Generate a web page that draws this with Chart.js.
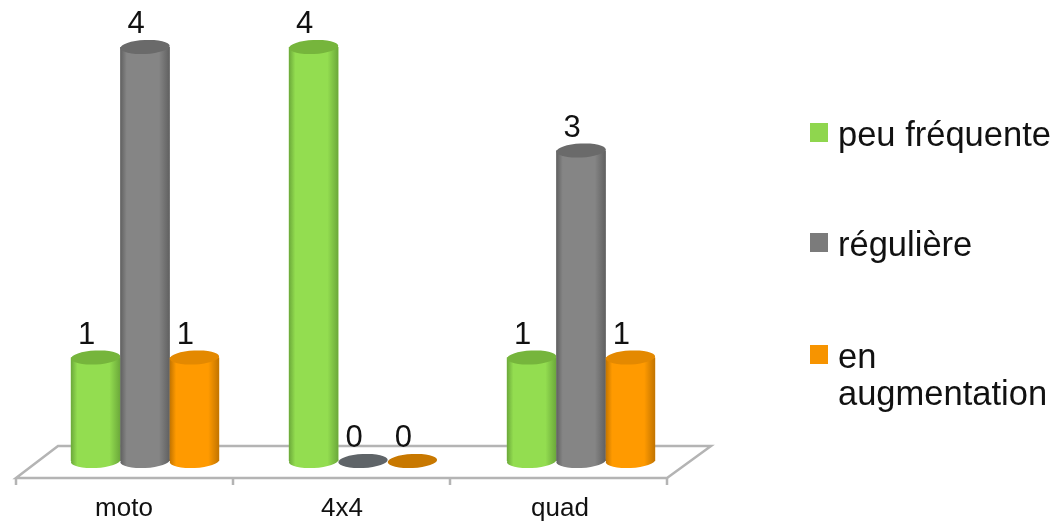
<!DOCTYPE html>
<html>
<head>
<meta charset="utf-8">
<style>
  html, body { margin: 0; padding: 0; background: #fff; }
  canvas { display: block; }
</style>
<script src="https://cdn.jsdelivr.net/npm/chart.js@4/dist/chart.umd.js"></script>
</head>
<body>
<canvas id="chart" width="1061" height="521"></canvas>
<script>
const categories = ["moto", "4x4", "quad"];
const peuFrequente = [1, 4, 1];
const reguliere = [4, 0, 3];
const enAugmentation = [1, 0, 1];
const seriesNames = ["peu fréquente", "régulière", ["en", "augmentation"]];

const FONT = '"Liberation Sans", Arial, sans-serif';
const RY = 7; // half height of the cylinder caps
const TILT = -0.05;

// body, side edge, top cap, flat (value 0) disc
const palette = [
  { body: "#93dd50", edge: "#6ba83a", top: "#76b53c", flat: "#76b53c", swatch: "#8fd64e" },
  { body: "#858585", edge: "#606060", top: "#6a6a6a", flat: "#5f6468", swatch: "#7b7b7b" },
  { body: "#ff9a00", edge: "#c27400", top: "#e48900", flat: "#c87800", swatch: "#f79400" },
];

function cap(ctx, x, y, rx, fill) {
  ctx.beginPath();
  ctx.ellipse(x, y, rx, RY, TILT, 0, Math.PI * 2);
  ctx.fillStyle = fill;
  ctx.fill();
}

const floorPlugin = {
  id: "floor",
  beforeDatasetsDraw(chart) {
    const { ctx, chartArea: a } = chart;
    const front = a.bottom + 17, back = a.bottom - 15;
    const fl = a.left - 20, fr = a.right - 23;
    ctx.save();
    ctx.strokeStyle = "#b4b4b4";
    ctx.lineWidth = 2.5;
    ctx.beginPath();
    ctx.moveTo(fl, front);
    ctx.lineTo(fr, front);
    ctx.lineTo(a.right + 21, back);
    ctx.lineTo(a.left + 22, back);
    ctx.closePath();
    ctx.stroke();
    // ticks under the front edge
    const step = (fr - fl) / categories.length;
    ctx.beginPath();
    for (let i = 0; i <= categories.length; i++) {
      ctx.moveTo(fl + i * step, front);
      ctx.lineTo(fl + i * step, front + 7);
    }
    ctx.stroke();
    ctx.restore();
  },
};

const cylinderPlugin = {
  id: "cylinders",
  afterDatasetsDraw(chart) {
    const { ctx } = chart;
    ctx.save();
    chart.data.datasets.forEach((ds, i) => {
      const c = palette[i];
      chart.getDatasetMeta(i).data.forEach((bar, j) => {
        const rx = bar.width / 2;
        const left = bar.x - rx;
        if (ds.data[j] === 0) {
          cap(ctx, bar.x, bar.base, rx, c.flat);
        } else {
          const g = ctx.createLinearGradient(left, 0, left + bar.width, 0);
          g.addColorStop(0, c.edge);
          g.addColorStop(0.13, c.body);
          g.addColorStop(0.78, c.body);
          g.addColorStop(1, c.edge);
          cap(ctx, bar.x, bar.base, rx, g);
          ctx.fillStyle = g;
          ctx.fillRect(left, bar.y, bar.width, bar.base - bar.y);
          cap(ctx, bar.x, bar.y, rx, c.top);
        }
        // value above the bar
        ctx.fillStyle = "#111";
        ctx.font = "31px " + FONT;
        ctx.textAlign = "center";
        ctx.textBaseline = "alphabetic";
        ctx.fillText(String(ds.data[j]), bar.x - 9, bar.y - 14);
      });
    });
    ctx.restore();
  },
};

const legendPlugin = {
  id: "sideLegend",
  afterDraw(chart) {
    const { ctx } = chart;
    const baselines = [146, 256, 368];
    ctx.save();
    ctx.font = "34.5px " + FONT;
    ctx.textAlign = "left";
    ctx.textBaseline = "alphabetic";
    seriesNames.forEach((name, i) => {
      ctx.fillStyle = palette[i].swatch;
      ctx.fillRect(810, baselines[i] - 23, 18, 19);
      ctx.fillStyle = "#111";
      [].concat(name).forEach((line, k) => {
        ctx.fillText(line, 838, baselines[i] + k * 37);
      });
    });
    ctx.restore();
  },
};

new Chart(document.getElementById("chart"), {
  type: "bar",
  data: {
    labels: categories,
    datasets: [peuFrequente, reguliere, enAugmentation].map((values, i) => ({
      label: [].concat(seriesNames[i]).join(" "),
      data: values,
      backgroundColor: palette[i].body,
      borderWidth: 0,
      barPercentage: 1,
      categoryPercentage: 0.68,
    })),
  },
  options: {
    responsive: false,
    animation: false,
    devicePixelRatio: 1,
    layout: { padding: { left: 36, right: 371, top: 47, bottom: 0 } },
    plugins: { legend: { display: false }, tooltip: { enabled: false } },
    scales: {
      x: {
        afterFit(scale) { scale.height = 60; },
        grid: { display: false },
        border: { display: false },
        ticks: {
          color: "#111",
          font: { family: FONT, size: 26 },
          labelOffset: -21,
          padding: 24,
          maxRotation: 0,
        },
      },
      y: { display: false, min: 0, max: 4 },
    },
  },
  plugins: [floorPlugin, cylinderPlugin, legendPlugin],
});
</script>
</body>
</html>
